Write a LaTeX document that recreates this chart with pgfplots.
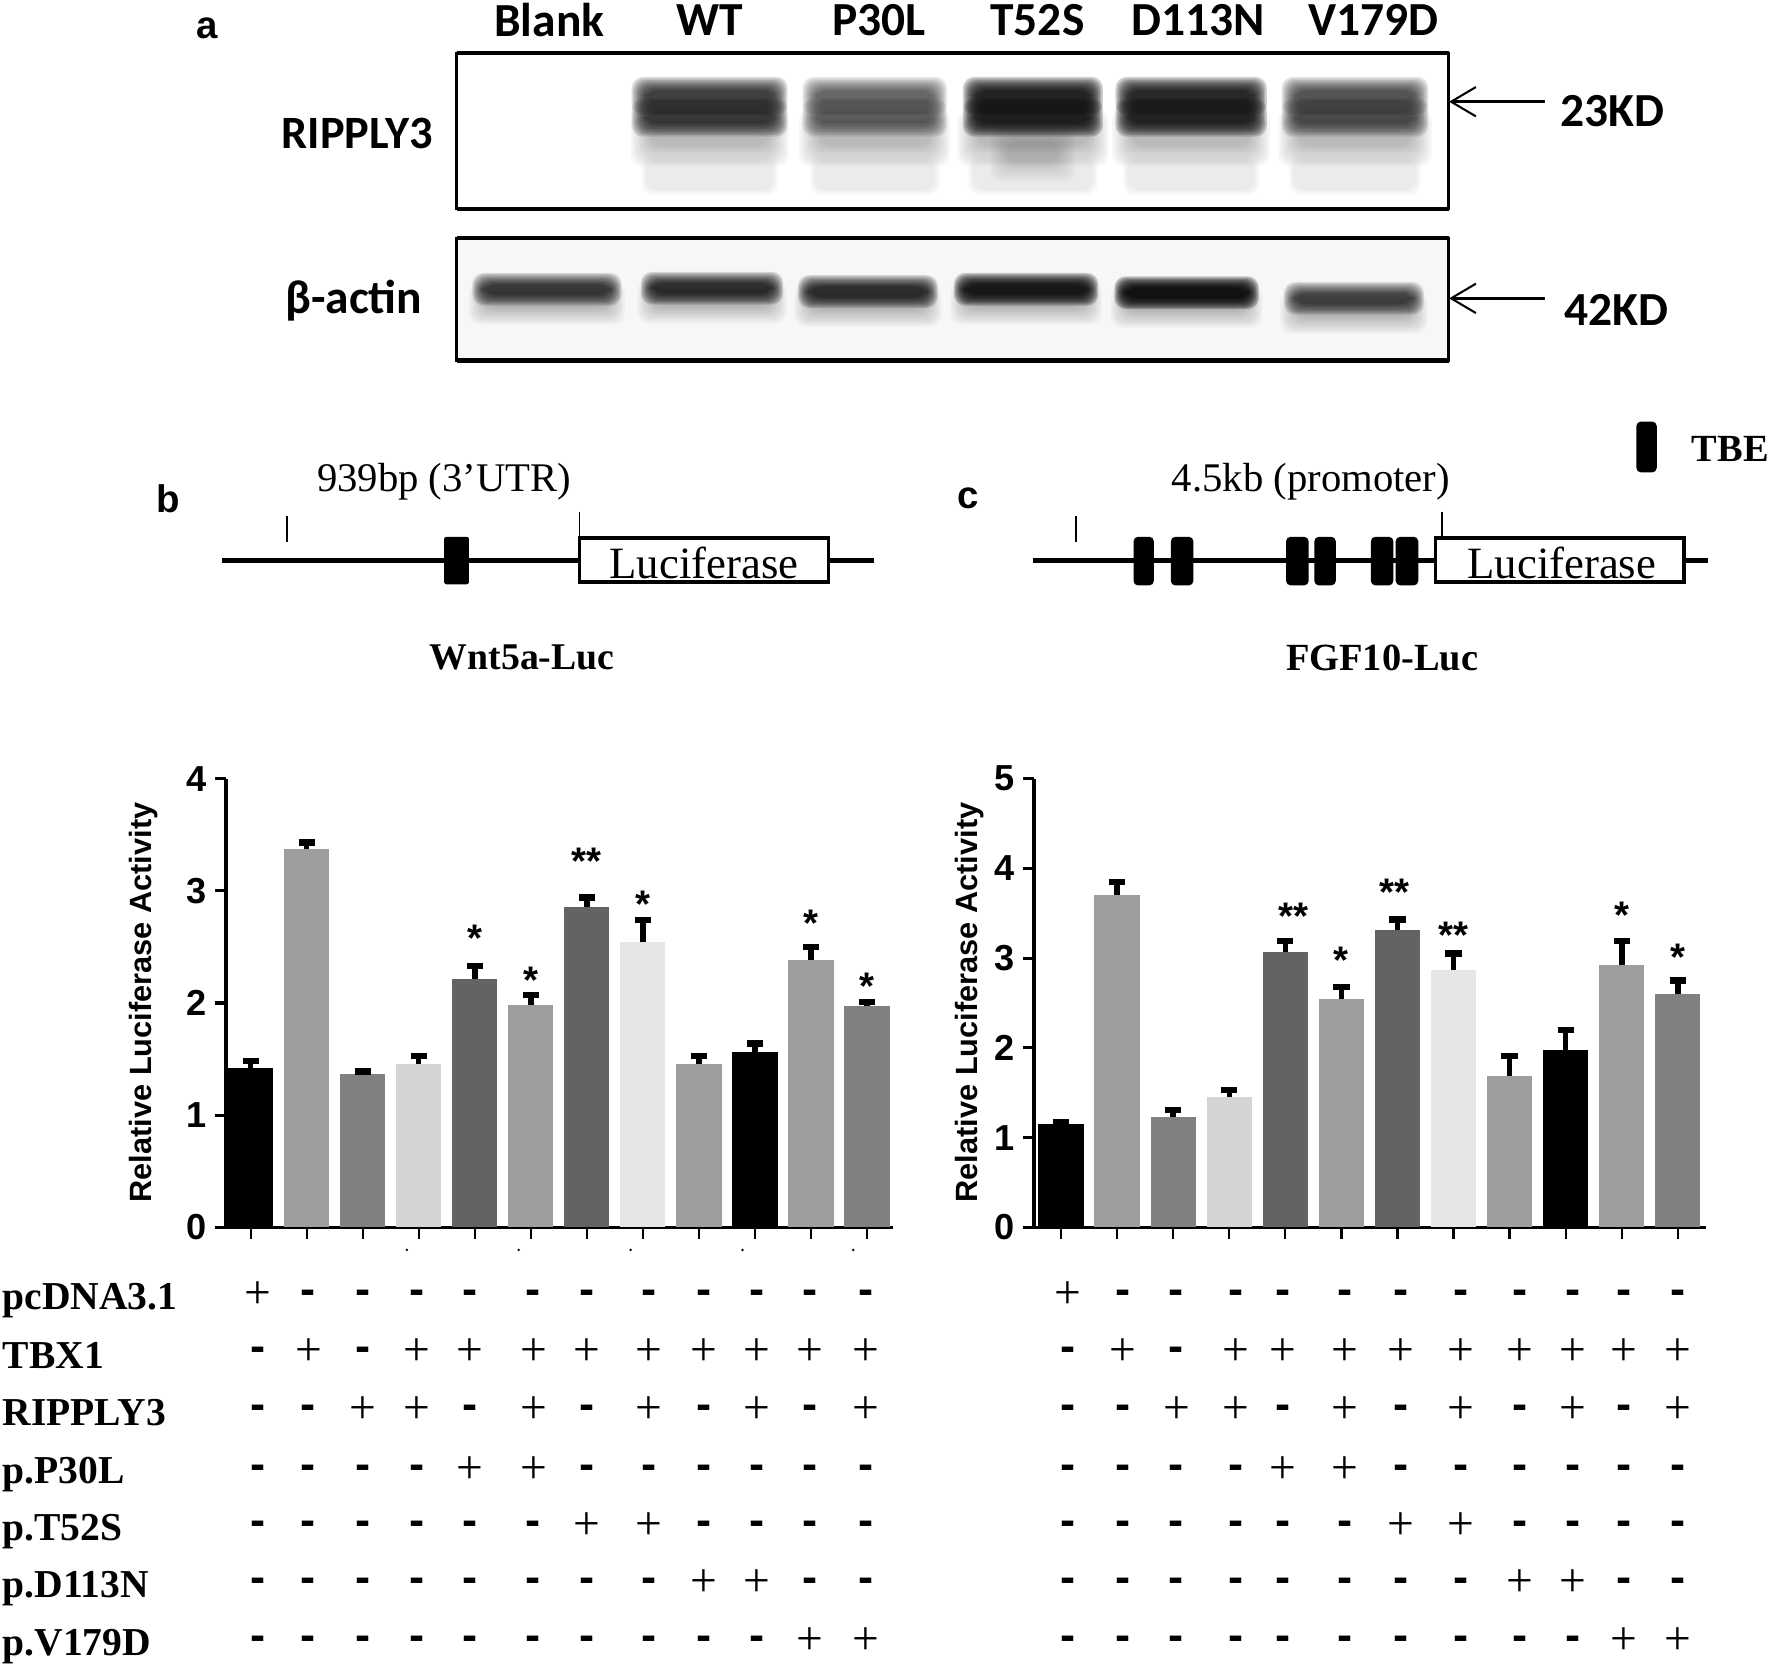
\documentclass[border=0pt]{standalone}
\usepackage{fontspec}
\usepackage{pgfplots}
\pgfplotsset{compat=1.18}
\setmainfont{Liberation Serif}
\newfontfamily\lsans{Liberation Sans}
\newfontfamily\cali{Carlito}
\definecolor{g1}{HTML}{9E9E9E}
\definecolor{g2}{HTML}{808080}
\definecolor{g3}{HTML}{D4D4D4}
\definecolor{g4}{HTML}{636363}
\definecolor{g5}{HTML}{E6E6E6}

% soft blot band: nested translucent boxes
\newcommand{\band}[6]{%
  \foreach \i in {0,...,9}{%
    \pgfmathsetmacro\d{#5*(1-\i/9)}%
    \fill[black,fill opacity=#6,rounded corners=5pt]
      ({#1-(#3)/2-\d},{#2-(#4)/2-\d}) rectangle ({#1+(#3)/2+\d},{#2+(#4)/2+\d});
  }}
% one row of +/- marks
\newcommand{\pmrow}[3]{%
  \foreach \s [count=\i from 0] in {#3}{%
    \pgfmathsetmacro\xx{{#1}[\i]}%
    \ifnum\s=1
      \node[font=\fontsize{21}{21}\selectfont] at (\xx,#2+3) {+};
    \else
      \node[font=\fontsize{20}{20}\selectfont\bfseries\lsans] at (\xx,#2+5) {-};
    \fi
  }}
\def\colsL{228,273,321,369,416,472,519,574,623,670,717,766}
\def\colsR{945,994,1041,1094,1135,1190,1240,1293,1345,1392,1437,1485}

\tikzset{stars/.style={font=\fontsize{17}{17}\selectfont\bfseries\lsans, inner sep=0pt}}
\pgfplotsset{
  panel/.style={
    scale only axis, height=198.5pt, ymin=0, clip=false,
    axis x line=bottom, axis y line=left,
    axis line style={-, line width=1.6pt},
    xtick={0,...,11}, xticklabels={},
    tick align=outside, ytick distance=1,
    major tick length=5pt,
    x tick style={black, line width=1pt},
    y tick style={black, line width=1.4pt},
    /pgf/number format/assume math mode=true,
    yticklabel style={font=\fontsize{16}{16}\selectfont\bfseries\lsans},
  },
  onebar/.style={
    ybar, bar width=20pt, bar shift=0pt, draw=none, fill=#1,
    error bars/.cd, y dir=plus, y explicit,
    error bar style={black, line width=2.4pt},
    error mark options={rotate=90, mark size=3.6pt, line width=2.8pt, black},
  },
}

\begin{document}
\begin{tikzpicture}
\path[use as bounding box] (0pt,0pt) rectangle (784pt,-736.5pt);

\begin{axis}[panel, at={(100pt,-543pt)}, anchor=south west,
    width=295pt, xmin=-0.44, xmax=11.46, ymax=4]
  \addplot[onebar=black] coordinates {(0,1.42) +- (0,0.06)};
  \addplot[onebar=g1] coordinates {(1,3.37) +- (0,0.06)};
  \addplot[onebar=g2] coordinates {(2,1.37) +- (0,0.02)};
  \addplot[onebar=g3] coordinates {(3,1.46) +- (0,0.07)};
  \addplot[onebar=g4] coordinates {(4,2.21) +- (0,0.12)};
  \addplot[onebar=g1] coordinates {(5,1.98) +- (0,0.09)};
  \addplot[onebar=g4] coordinates {(6,2.86) +- (0,0.08)};
  \addplot[onebar=g5] coordinates {(7,2.54) +- (0,0.20)};
  \addplot[onebar=g1] coordinates {(8,1.46) +- (0,0.07)};
  \addplot[onebar=black] coordinates {(9,1.56) +- (0,0.08)};
  \addplot[onebar=g1] coordinates {(10,2.38) +- (0,0.12)};
  \addplot[onebar=g2] coordinates {(11,1.97) +- (0,0.04)};
  \node[stars] at (axis cs:4,2.58) {*};
  \node[stars] at (axis cs:5,2.20) {*};
  \node[stars] at (axis cs:6,3.26) {**};
  \node[stars] at (axis cs:7,2.88) {*};
  \node[stars] at (axis cs:10,2.71) {*};
  \node[stars] at (axis cs:11,2.15) {*};
\end{axis}

\begin{axis}[panel, at={(457.5pt,-543pt)}, anchor=south west,
    width=297.5pt, xmin=-0.48, xmax=11.51, ymax=5]
  \addplot[onebar=black] coordinates {(0,1.15) +- (0,0.02)};
  \addplot[onebar=g1] coordinates {(1,3.70) +- (0,0.15)};
  \addplot[onebar=g2] coordinates {(2,1.23) +- (0,0.08)};
  \addplot[onebar=g3] coordinates {(3,1.45) +- (0,0.08)};
  \addplot[onebar=g4] coordinates {(4,3.07) +- (0,0.12)};
  \addplot[onebar=g1] coordinates {(5,2.55) +- (0,0.13)};
  \addplot[onebar=g4] coordinates {(6,3.31) +- (0,0.12)};
  \addplot[onebar=g5] coordinates {(7,2.87) +- (0,0.18)};
  \addplot[onebar=g1] coordinates {(8,1.69) +- (0,0.22)};
  \addplot[onebar=black] coordinates {(9,1.98) +- (0,0.22)};
  \addplot[onebar=g1] coordinates {(10,2.92) +- (0,0.27)};
  \addplot[onebar=g2] coordinates {(11,2.60) +- (0,0.15)};
  \node[stars] at (axis cs:4.15,3.47) {**};
  \node[stars] at (axis cs:5,2.98) {*};
  \node[stars] at (axis cs:5.95,3.73) {**};
  \node[stars] at (axis cs:7,3.26) {**};
  \node[stars] at (axis cs:10,3.48) {*};
  \node[stars] at (axis cs:11,3.01) {*};
\end{axis}

\begin{scope}[x=0.5pt,y=-0.5pt]
  \node[rotate=90,font=\fontsize{13.6}{14}\selectfont\bfseries\lsans] at (127,887) {Relative Luciferase Activity};
  \node[rotate=90,font=\fontsize{13.6}{14}\selectfont\bfseries\lsans] at (858,887) {Relative Luciferase Activity};
  % stray dots under the left axis
  \foreach \x in {360,459,558,657,755} \fill (\x,1106) circle (0.6pt);

  % blots
  \fill[black!3] (404,211) rectangle (1282,319);
  % faint smears under the lanes
  \foreach \a/\b in {628/112,774/106,914/106,1054/112,1199/108}{
    \band{\a}{155}{\b}{26}{5}{0.006}
    \band{\a}{122}{\b-8}{14}{18}{0.03}
  }
  \band{914}{135}{44}{20}{16}{0.018}
  % main double band
  \foreach \a/\b/\o in {628/114/0.13,774/104/0.085,914/100/0.18,1054/110/0.17,1199/106/0.105}{
    \band{\a}{85}{\b}{10}{12}{\o}
    \band{\a}{104}{\b}{10}{12}{\o}
  }
  \foreach \a/\b/\y/\o in {484/112/256/0.12,630/106/255/0.14,768/104/258/0.14,908/108/256/0.19,1050/108/259/0.21,1198/104/264/0.11}{
    \band{\a}{\y+12}{\b-6}{6}{16}{0.03}
    \band{\a}{\y}{\b}{9}{10}{\o}
  }
  \draw[line width=1.2pt] (404,47) rectangle (1282,185);
  \draw[line width=1.2pt] (404,211) rectangle (1282,319);
  \draw[line width=1.8pt] (404,47) -- (1282,47) (404,185) -- (1282,185) (404,211) -- (1282,211) (404,319) -- (1282,319);

  \foreach \x/\t in {486/Blank,628/WT,778/P30L,918/T52S,1060/D113N,1215/V179D}
    \node[font=\fontsize{21}{21}\selectfont\bfseries\cali] at (\x,18) {\t};
  \node[font=\fontsize{20.5}{21}\selectfont\bfseries\cali] at (316,118) {RIPPLY3};
  \node[font=\fontsize{21}{21}\selectfont\bfseries\cali] at (313,266) {β-actin};
  \node[font=\fontsize{21}{21}\selectfont\bfseries\cali] at (1427,98) {23KD};
  \node[font=\fontsize{21}{21}\selectfont\bfseries\cali] at (1430,274) {42KD};
  \foreach \y in {90,264}{
    \draw[line width=1.4pt] (1367,\y) -- (1286,\y);
    \draw[line width=0.9pt] (1306,\y-13) -- (1284,\y) -- (1306,\y+13);
  }
  \foreach \x/\y/\t in {183/25/a,149/441/b,857/441/c}
    \node[font=\fontsize{17}{17}\selectfont\bfseries\lsans] at (\x,\y) {\t};

  % constructs
  \draw[line width=1.9pt] (196,496) -- (513,496) (733,496) -- (773,496);
  \draw[line width=0.6pt] (254,457) -- (254,480) (513,453) -- (513,476);
  \fill[rounded corners=1pt] (393,475) rectangle (415,517);
  \draw[line width=1.5pt] (513,476) rectangle (733,515);
  \node[font=\fontsize{19.8}{20}\selectfont] at (623,498) {Luciferase};
  \node[font=\fontsize{18}{18}\selectfont] at (393,426) {939bp (3’UTR)};
  \node[font=\fontsize{16.7}{17}\selectfont\bfseries] at (462,582) {Wnt5a-Luc};

  \draw[line width=1.9pt] (914,496) -- (1270,496) (1490,496) -- (1511,496);
  \draw[line width=0.6pt] (952,457) -- (952,480) (1276,453) -- (1276,476);
  \foreach \a/\b in {1003/1021,1036/1056,1138/1158,1163/1182,1213/1233,1235/1255}
    \fill[rounded corners=2pt] (\a,475) rectangle (\b,518);
  \draw[line width=1.5pt] (1270,476) rectangle (1490,515);
  \node[font=\fontsize{19.8}{20}\selectfont] at (1382,498) {Luciferase};
  \node[font=\fontsize{18}{18}\selectfont] at (1160,426) {4.5kb (promoter)};
  \node[font=\fontsize{17}{17}\selectfont\bfseries] at (1223,582) {FGF10-Luc};
  \fill[rounded corners=2pt] (1448,373) rectangle (1466,418);
  \node[font=\fontsize{17}{17}\selectfont\bfseries] at (1531,397) {TBE};

  % treatment rows
  \foreach \y/\t in {1151/pcDNA3.1,1199/TBX1,1250/RIPPLY3,1305/p.P30L,1355/p.T52S,1406/p.D113N,1457/p.V179D}
    \node[anchor=west,inner sep=0pt,font=\fontsize{17.5}{18}\selectfont\bfseries] at (2,\y) {\t};

  \pmrow{\colsL}{1143}{1,0,0,0,0,0,0,0,0,0,0,0}
  \pmrow{\colsL}{1193}{0,1,0,1,1,1,1,1,1,1,1,1}
  \pmrow{\colsL}{1245}{0,0,1,1,0,1,0,1,0,1,0,1}
  \pmrow{\colsL}{1298}{0,0,0,0,1,1,0,0,0,0,0,0}
  \pmrow{\colsL}{1347}{0,0,0,0,0,0,1,1,0,0,0,0}
  \pmrow{\colsL}{1398}{0,0,0,0,0,0,0,0,1,1,0,0}
  \pmrow{\colsL}{1449}{0,0,0,0,0,0,0,0,0,0,1,1}

  \pmrow{\colsR}{1143}{1,0,0,0,0,0,0,0,0,0,0,0}
  \pmrow{\colsR}{1193}{0,1,0,1,1,1,1,1,1,1,1,1}
  \pmrow{\colsR}{1245}{0,0,1,1,0,1,0,1,0,1,0,1}
  \pmrow{\colsR}{1298}{0,0,0,0,1,1,0,0,0,0,0,0}
  \pmrow{\colsR}{1347}{0,0,0,0,0,0,1,1,0,0,0,0}
  \pmrow{\colsR}{1398}{0,0,0,0,0,0,0,0,1,1,0,0}
  \pmrow{\colsR}{1449}{0,0,0,0,0,0,0,0,0,0,1,1}
\end{scope}
\end{tikzpicture}
\end{document}
